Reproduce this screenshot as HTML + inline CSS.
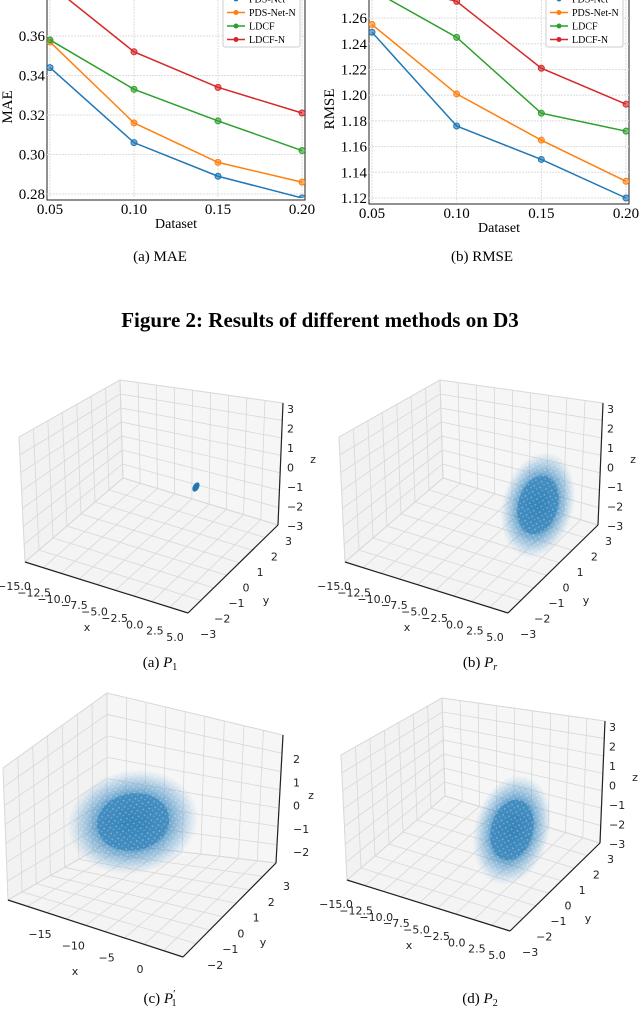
<!DOCTYPE html>
<html><head><meta charset="utf-8">
<style>
body{margin:0;background:#fff;}
svg{display:block;}
.ser{font-family:"Liberation Serif",serif;}
.dj{font-family:"DejaVu Sans",sans-serif;font-size:11px;fill:#222;}
</style></head>
<body>
<svg id="fig" width="640" height="1013" viewBox="0 0 640 1013" xmlns="http://www.w3.org/2000/svg">
<defs>
<radialGradient id="cloud" cx="50%" cy="50%" r="50%">
<stop offset="0%" stop-color="#1f77b4" stop-opacity="0.95"/>
<stop offset="55%" stop-color="#2a7fbb" stop-opacity="0.8"/>
<stop offset="80%" stop-color="#4a94c9" stop-opacity="0.4"/>
<stop offset="100%" stop-color="#6aa8d6" stop-opacity="0"/>
</radialGradient>
<pattern id="speck" width="6" height="6" patternUnits="userSpaceOnUse">
<rect width="6" height="6" fill="none"/>
<circle cx="1.5" cy="1.5" r="0.9" fill="#fff" opacity="0.35"/>
<circle cx="4.5" cy="4" r="0.8" fill="#fff" opacity="0.3"/>
</pattern>
</defs>
<g id="charts"></g>
<g id="panels"></g>
<text class="ser" x="160" y="261" font-size="15" text-anchor="middle">(a)  MAE</text>
<text class="ser" x="482" y="261" font-size="15" text-anchor="middle">(b)  RMSE</text>
<text class="ser" x="320" y="327" font-size="21" font-weight="bold" text-anchor="middle">Figure 2: Results of different methods on D3</text>
<text class="ser" x="160" y="667" font-size="15" text-anchor="middle">(a)  <tspan font-style="italic">P</tspan><tspan font-size="10" dy="3">1</tspan></text>
<text class="ser" x="480" y="667" font-size="15" text-anchor="middle">(b)  <tspan font-style="italic">P</tspan><tspan font-size="10" dy="3" font-style="italic">r</tspan></text>
<text class="ser" x="160" y="1003" font-size="15" text-anchor="middle">(c)  <tspan font-style="italic">P</tspan><tspan font-size="11" dy="-6">′</tspan><tspan font-size="10" dx="-4" dy="9">1</tspan></text>
<text class="ser" x="480" y="1003" font-size="15" text-anchor="middle">(d)  <tspan font-style="italic">P</tspan><tspan font-size="10" dy="3">2</tspan></text>
</svg>
<script>
const NS="http://www.w3.org/2000/svg";
const categories=[0.05,0.10,0.15,0.20];
const seriesNames=["PDS-Net","PDS-Net-N","LDCF","LDCF-N"];
const colors=["#1f77b4","#ff7f0e","#2ca02c","#d62728"];
const maePDS=[0.344,0.306,0.289,0.278];
const maePDSN=[0.357,0.316,0.296,0.286];
const maeLDCF=[0.358,0.333,0.317,0.302];
const maeLDCFN=[0.386,0.352,0.334,0.321];
const rmsePDS=[1.249,1.176,1.150,1.120];
const rmsePDSN=[1.255,1.201,1.165,1.133];
const rmseLDCF=[1.282,1.245,1.186,1.172];
const rmseLDCFN=[1.290,1.273,1.221,1.193];
const xTicks=["0.05","0.10","0.15","0.20"];
const maeTicks=[0.28,0.30,0.32,0.34,0.36];
const rmseTicks=[1.12,1.14,1.16,1.18,1.20,1.22,1.24,1.26];

function el(tag,attrs,parent){const e=document.createElementNS(NS,tag);for(const k in attrs)e.setAttribute(k,attrs[k]);parent.appendChild(e);return e;}

function lineChart(o){
  const g=el('g',{},document.getElementById('charts'));
  
  
  const xs=v=>o.x0+(v-0.05)/0.15*(o.x1-o.x0);
  const ys=v=>o.yb-(v-o.vmin)/(o.vstep)*o.pxStep;
  el('rect',{x:o.x0-3,y:-2,width:o.x1-o.x0+6,height:o.yb+2-(-2)+4,fill:'#fff',stroke:'#222','stroke-width':1},g);
  categories.forEach((c,i)=>{const X=xs(c);el('line',{x1:X,y1:0,x2:X,y2:o.yb+4,stroke:'#ddd','stroke-dasharray':'2,1'},g);
    const t=el('text',{x:X,y:o.yb+20,'font-size':15,'text-anchor':'middle',class:'ser'},g);t.textContent=xTicks[i];});
  o.ticks.forEach(v=>{const Y=ys(v);el('line',{x1:o.x0-3,y1:Y,x2:o.x1+3,y2:Y,stroke:'#ddd','stroke-dasharray':'2,1'},g);
    const t=el('text',{x:o.x0-5,y:Y+5,'font-size':15,'text-anchor':'end',class:'ser'},g);t.textContent=v.toFixed(2);});
  const cp=el('clipPath',{id:'cp'+o.name},g);el('rect',{x:o.x0-3,y:0,width:o.x1-o.x0+6,height:o.yb+4},cp);
  const sg=el('g',{'clip-path':'url(#cp'+o.name+')'},g);
  o.series.forEach((s,si)=>{
    const pts=s.map((v,i)=>xs(categories[i])+','+ys(v)).join(' ');
    const pl=el('polyline',{points:pts,fill:'none',stroke:colors[si],'stroke-width':1.5},sg);
    
    
    s.forEach((v,i)=>{const m=el('circle',{cx:xs(categories[i]),cy:ys(v),r:3,fill:colors[si],'fill-opacity':0.6,stroke:colors[si]},sg);
      });
  });
  const yl=el('text',{x:o.ylx,y:o.yb/2+10,'font-size':15,'text-anchor':'middle',class:'ser',transform:`rotate(-90 ${o.ylx} ${o.yb/2+10})`},g);yl.textContent=o.ylabel;
  const xl=el('text',{x:(o.x0+o.x1)/2,y:o.yb+34,'font-size':14,'text-anchor':'middle',class:'ser'},g);xl.textContent='Dataset';
  const lg=el('g',{},g);
  el('rect',{x:o.lx,y:-4,width:77,height:51,fill:'#fff',stroke:'#ccc',rx:2},lg);
  seriesNames.forEach((n,i)=>{const Y=-1+i*13.5;
    el('line',{x1:o.lx+4,y1:Y,x2:o.lx+22,y2:Y,stroke:colors[i],'stroke-width':1.5},lg);
    el('circle',{cx:o.lx+13,cy:Y,r:2.5,fill:colors[i]},lg);
    const t=el('text',{x:o.lx+26,y:Y+3.5,'font-size':10,class:'ser'},lg);t.textContent=n;
    });
}
lineChart({name:'mae-chart',x0:50,x1:302,yb:194,vmin:0.28,vstep:0.02,pxStep:39.5,ticks:maeTicks,series:[maePDS,maePDSN,maeLDCF,maeLDCFN],ylabel:'MAE',ylx:12,lx:223});
lineChart({name:'rmse-chart',x0:372,x1:626,yb:198,vmin:1.12,vstep:0.02,pxStep:25.7,ticks:rmseTicks,series:[rmsePDS,rmsePDSN,rmseLDCF,rmseLDCFN],ylabel:'RMSE',ylx:334,lx:546});

function lerp(a,b,t){return [a[0]+(b[0]-a[0])*t,a[1]+(b[1]-a[1])*t];}
function poly(pts,attrs,g){return el('polygon',Object.assign({points:pts.map(p=>p.join(',')).join(' ')},attrs),g);}
function ln(a,b,attrs,g){return el('line',Object.assign({x1:a[0],y1:a[1],x2:b[0],y2:b[1]},attrs),g);}
function txt(p,s,g,anchor){const t=el('text',{x:p[0],y:p[1],class:'dj','text-anchor':anchor||'middle'},g);t.textContent=s;return t;}

function panel(o){
  const g=el('g',{},document.getElementById('panels'));
  
  
  const {L,B,Bb,R,Rb,Lb,F}=o;
  const gs={stroke:'#d8d8d8','stroke-width':0.8};
  poly([L,B,Bb,Lb],{fill:'#f2f2f2',stroke:'#e0e0e0'},g);
  poly([B,R,Rb,Bb],{fill:'#f6f6f6',stroke:'#e0e0e0'},g);
  poly([Lb,Bb,Rb,F],{fill:'#f4f4f4',stroke:'#e0e0e0'},g);
  const nx=9,ny=7,nz=7;
  for(let i=0;i<=nx;i++){const t=i/nx;
    const a=lerp(Lb,F,t),b=lerp(Bb,Rb,t),c=lerp(B,R,t);ln(a,b,gs,g);ln(b,c,gs,g);}
  for(let i=0;i<=ny;i++){const t=i/ny;
    const a=lerp(F,Rb,t),b=lerp(Lb,Bb,t),c=lerp(L,B,t);ln(a,b,gs,g);ln(b,c,gs,g);}
  for(let i=0;i<=nz;i++){const t=i/nz;
    const a=lerp(Lb,L,t),b=lerp(Bb,B,t),c=lerp(Rb,R,t);ln(a,b,gs,g);ln(b,c,gs,g);}
  const ax={stroke:'#222','stroke-width':1.2};
  ln(Lb,F,ax,g);ln(F,Rb,ax,g);ln(Rb,R,ax,g);
  if(o.cloud){const c=o.cloud;const tr=`rotate(${c[4]} ${c[0]} ${c[1]})`;
    if(c[2]>10){
      const e=el('ellipse',{cx:c[0],cy:c[1],rx:c[2],ry:c[3],fill:'url(#cloud)',opacity:0.85,transform:tr},g);
      
      el('ellipse',{cx:c[0],cy:c[1],rx:c[2]*0.55,ry:c[3]*0.55,fill:'#1f77b4',opacity:0.5,transform:tr},g);
      el('ellipse',{cx:c[0],cy:c[1],rx:c[2]*0.95,ry:c[3]*0.95,fill:'url(#speck)',transform:tr},g);
    } else {
      const e=el('ellipse',{cx:c[0],cy:c[1],rx:c[2],ry:c[3],fill:'#1f77b4',transform:tr},g);
      
    }}
  o.xt.forEach((s,i)=>{const t=i/(o.xt.length-1);const p=lerp(o.xs,o.xe,t);txt(p,s,g);});
  o.yt.forEach((s,i)=>{const t=i/(o.yt.length-1);const p=lerp(o.ys,o.ye,t);txt(p,s,g,'start');});
  o.zt.forEach((s,i)=>{const t=i/(o.zt.length-1);const p=lerp(o.zs,o.ze,t);txt(p,s,g,'start');});
  txt(o.xl,'x',g);txt(o.yl,'y',g);txt(o.zl,'z',g);
}
const xtA=["−15.0","−12.5","−10.0","−7.5","−5.0","−2.5","0.0","2.5","5.0"];
const ytA=["−3","−2","−1","0","1","2","3"];
const ztA=["3","2","1","0","−1","−2","−3"];
function std(name,dx,dy,cloud){
  const s=(p)=>[p[0]+dx,p[1]+dy];
  panel({name,L:s([19,437]),B:s([120,380]),Bb:s([123,478]),R:s([283,403]),Rb:s([278,525]),Lb:s([25,562]),F:s([188,613]),
    xt:xtA,xs:s([14,590]),xe:s([175,641]),yt:ytA,ys:s([200,638]),ye:s([285,545]),zt:ztA,zs:s([287,413]),ze:s([287,530]),
    xl:s([87,631]),yl:s([266,604]),zl:s([313,463]),cloud});
}
std('panel-p1',0,0,[196,487,3,5,30]);
std('panel-pr',320,0,[538,505,36,54,15]);
std('panel-p2',322,318,[512,830,38,56,15]);
panel({name:'panel-p1-prime',L:[3,768],B:[107,693],Bb:[107,843],R:[283,735],Rb:[276,863],Lb:[8,900],F:[183,957],
  xt:["−15","−10","−5","0"],xs:[40,938],xe:[140,973],yt:["−2","−1","0","1","2","3"],ys:[207,969],ye:[283,890],
  zt:["2","1","0","−1","−2"],zs:[293,763],ze:[293,856],xl:[75,975],yl:[263,946],zl:[311,799],cloud:[133,822,66,52,-10]});
</script>
</body></html>
